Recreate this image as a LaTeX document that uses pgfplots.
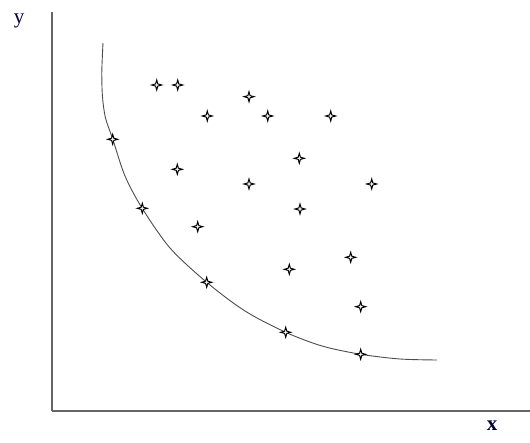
\documentclass[border=0pt]{standalone}
\usepackage{pgfplots}
\pgfplotsset{compat=1.18}
\usepackage{fontspec}
\setmainfont{Liberation Serif}
\pgfdeclareplotmark{star4}{%
  \pgfpathmoveto{\pgfqpoint{0pt}{\pgfplotmarksize}}%
  \pgfpathlineto{\pgfqpoint{0.22\pgfplotmarksize}{0.22\pgfplotmarksize}}%
  \pgfpathlineto{\pgfqpoint{\pgfplotmarksize}{0pt}}%
  \pgfpathlineto{\pgfqpoint{0.22\pgfplotmarksize}{-0.22\pgfplotmarksize}}%
  \pgfpathlineto{\pgfqpoint{0pt}{-\pgfplotmarksize}}%
  \pgfpathlineto{\pgfqpoint{-0.22\pgfplotmarksize}{-0.22\pgfplotmarksize}}%
  \pgfpathlineto{\pgfqpoint{-\pgfplotmarksize}{0pt}}%
  \pgfpathlineto{\pgfqpoint{-0.22\pgfplotmarksize}{0.22\pgfplotmarksize}}%
  \pgfpathclose
  \pgfusepathqfillstroke}
\begin{document}
\begin{tikzpicture}[x=1pt,y=1pt]
\useasboundingbox (0,0) rectangle (530,442);
\begin{axis}[
  at={(52pt,31pt)}, anchor=south west,
  scale only axis, width=478pt, height=399pt,
  xmin=52, xmax=530, ymin=31, ymax=430,
  axis lines=left,
  axis line style={-, draw=black!60, line width=1.1pt},
  xtick=\empty, ytick=\empty,
  clip=false,
]
\addplot[smooth, tension=0.5, draw=black!70, line width=0.9pt] coordinates {
  (103,399) (101.8,370) (102.5,345) (105.5,324) (112.7,303) (125,266) (142,234)
  (170,194) (206.7,159.7) (245,131) (285.7,109.7) (322,96) (360.7,87.7)
  (400,83) (437,82)
};
\addplot[only marks, mark=star4, mark size=5pt,
  mark options={draw=black, fill=white, line width=1pt}] coordinates {
  (156.7,357) (177.7,357) (249,345.3) (207.3,326) (267.7,326) (330.7,326)
  (112.7,302.7) (299.3,283.7) (177.3,272.7) (249,258) (371.7,258)
  (142.3,233.7) (300,233) (197.7,215.3) (289.3,172.7) (350.7,184.7)
  (360.7,135.3) (206.7,159.7) (285.7,109.7) (360.7,87.7)
};
\end{axis}
\node[font=\fontsize{21}{21}\selectfont, text=black!75!blue] at (19,421) {y};
\node[font=\fontsize{21}{21}\selectfont\bfseries, text=black!80!blue] at (492,16) {x};
\end{tikzpicture}
\end{document}
